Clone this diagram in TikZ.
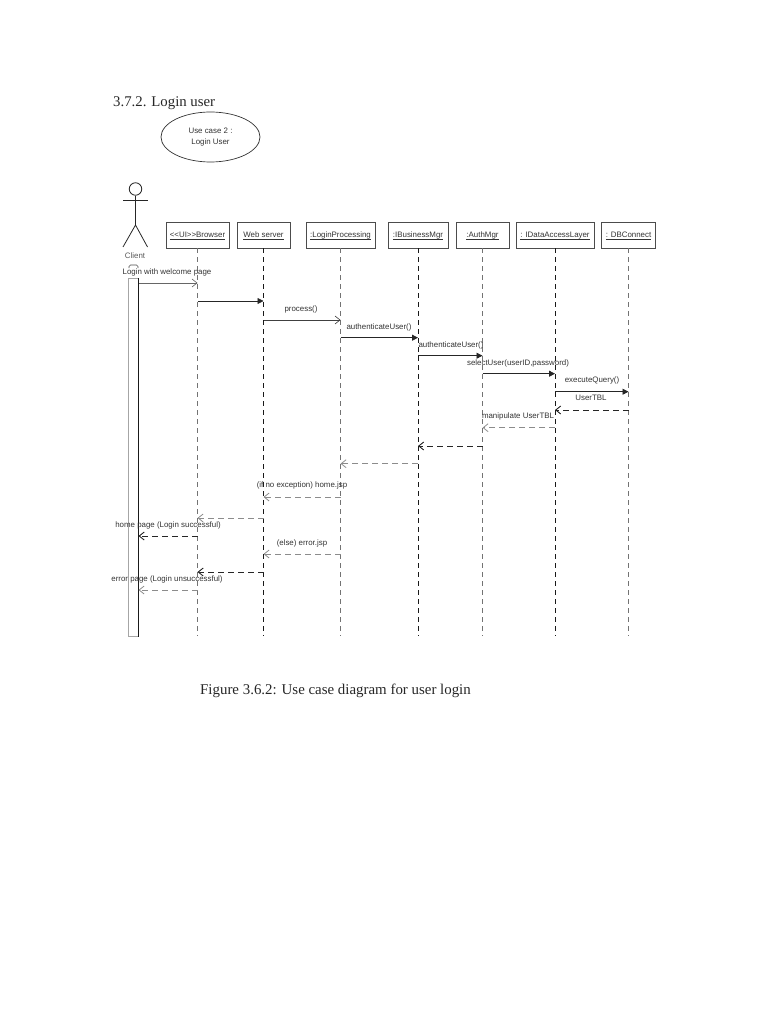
\documentclass[tikz,border=0pt]{standalone}
\usepackage{fontspec}
\setmainfont{Liberation Serif}
\setsansfont{Liberation Sans}
\usepackage{xcolor}
\usetikzlibrary{arrows.meta,positioning,shapes.geometric}
\newcommand{\headname}[1]{\underline{\smash{#1}}}

\begin{document}
\begin{tikzpicture}[
    x=1pt, y=1pt,
    lbl/.style={font=\sffamily\fontsize{7.9}{10}\selectfont, text=black!80, inner sep=0pt},
    head/.style={rectangle, draw=black!70, line width=0.8pt, fill=white, minimum height=26pt, inner sep=0pt, text height=7pt, text depth=2pt, font=\sffamily\fontsize{7.9}{10}\selectfont, text=black!80},
    life/.style={draw=black!55, line width=0.7pt, dash pattern=on 5pt off 4pt},
    lifedark/.style={draw=black!90, line width=0.8pt, dash pattern=on 5pt off 4pt},
    call/.style={-{Triangle[length=6pt,width=6pt]}, draw=black!85, line width=0.8pt},
    open/.style={-{Straight Barb[length=5pt,width=8pt]}, draw=black!60, line width=0.6pt},
    retn/.style={-{Straight Barb[length=5pt,width=8pt]}, draw=black!45, line width=0.8pt, dash pattern=on 6pt off 4pt},
    retndark/.style={-{Straight Barb[length=5pt,width=8pt]}, draw=black!85, line width=0.9pt, dash pattern=on 6pt off 4pt}
]
\useasboundingbox (0,0) rectangle (768,-1024);
% page text
\node[font=\fontsize{14.8}{16}\selectfont, text=black!85, anchor=west, inner sep=0pt] (title) at (113,-103.5) {3.7.2. Login user};
\node[font=\fontsize{14.9}{16}\selectfont, text=black!85, anchor=west, inner sep=0pt] (caption) at (200,-690.5) {Figure 3.6.2: Use case diagram for user login};
% use case
\node[ellipse, draw=black!80, line width=0.7pt, minimum width=99pt, minimum height=50pt, inner sep=0pt, align=center, font=\sffamily\fontsize{7.9}{10.5}\selectfont, text=black!80] (usecase) at (210.5,-137) {Use case 2 :\\Login User};
% actor
\node[circle, draw=black!85, line width=0.8pt, minimum size=12.5pt, inner sep=0pt] (headc) at (135.5,-189) {};
\coordinate (hip) at (135.5,-225);
\coordinate (armL) at (123,-200);
\coordinate (armR) at (147.5,-200);
\coordinate (footL) at (123,-247);
\coordinate (footR) at (147.5,-247);
\draw[draw=black!85, line width=0.8pt] (headc) -- (hip);
\draw[draw=black!85, line width=0.8pt] (armL) -- (armR);
\draw[draw=black!85, line width=0.8pt] (footL) -- (hip) -- (footR);
\node[lbl, text=black!65] (client) at (135,-256) {Client};
% activation bar
\node[rectangle, draw=black!35, line width=1pt, minimum width=10pt, minimum height=358pt, inner sep=0pt] (bar) at (133,-457.5) {};
\draw[draw=black!90, line width=1.1pt] (bar.north east) -- (bar.south east);
\draw[draw=black!70, line width=0.6pt, rounded corners=1.5pt] (129,-268) -- (129,-265) -- (138,-265) -- (138,-268);
% lifeline heads
\node[head, minimum width=63pt] (browser) at (197.5,-235) {\headname{<{}<UI>{}>Browser}};
\node[head, minimum width=53pt] (web) at (263.5,-235) {\headname{Web server}};
\node[head, minimum width=69pt] (login) at (340.5,-235) {\headname{:LoginProcessing}};
\node[head, minimum width=60pt] (bus) at (418,-235) {\headname{:IBusinessMgr}};
\node[head, minimum width=53pt] (auth) at (482.5,-235) {\headname{:AuthMgr}};
\node[head, minimum width=78pt] (data) at (555,-235) {\headname{: IDataAccessLayer}};
\node[head, minimum width=54pt] (db) at (628.5,-235) {\headname{: DBConnect}};
% message rows
\coordinate (bottom) at (0,-636);
\coordinate (m1) at (0,-283);
\coordinate (m2) at (0,-301);
\coordinate (m3) at (0,-320);
\coordinate (m4) at (0,-337.7);
\coordinate (m5) at (0,-355.7);
\coordinate (m6) at (0,-373.7);
\coordinate (m7) at (0,-391.7);
\coordinate (m8) at (0,-410);
\coordinate (m9) at (0,-427.7);
\coordinate (m10) at (0,-446);
\coordinate (m11) at (0,-463.7);
\coordinate (m12) at (0,-497);
\coordinate (m13) at (0,-518);
\coordinate (m14) at (0,-536);
\coordinate (m15) at (0,-554);
\coordinate (m16) at (0,-572);
\coordinate (m17) at (0,-590);
% lifelines
\draw[life] (browser.south) -- (browser.south |- bottom);
\draw[lifedark] (web.south) -- (web.south |- bottom);
\draw[life] (login.south) -- (login.south |- bottom);
\draw[lifedark] (bus.south) -- (bus.south |- bottom);
\draw[life] (auth.south) -- (auth.south |- bottom);
\draw[lifedark] (data.south) -- (data.south |- bottom);
\draw[life] (db.south) -- (db.south |- bottom);
% messages
\draw[open] (bar.east |- m1) -- (browser.south |- m1);
\draw[call] (browser.south |- m2) -- (web.south |- m2);
\draw[open, draw=black!75] (web.south |- m3) -- (login.south |- m3);
\draw[call] (login.south |- m4) -- (bus.south |- m4);
\draw[call, line width=0.6pt] (bus.south |- m5) -- (auth.south |- m5);
\draw[call] (auth.south |- m6) -- (data.south |- m6);
\draw[call, line width=0.6pt] (data.south |- m7) -- (db.south |- m7);
\draw[retndark] (db.south |- m8) -- (data.south |- m8);
\draw[retn] (data.south |- m9) -- (auth.south |- m9);
\draw[retndark] (auth.south |- m10) -- (bus.south |- m10);
\draw[retn] (bus.south |- m11) -- (login.south |- m11);
\draw[retn] (login.south |- m12) -- (web.south |- m12);
\draw[retn] (web.south |- m13) -- (browser.south |- m13);
\draw[retndark] (browser.south |- m14) -- (bar.east |- m14);
\draw[retn] (login.south |- m15) -- (web.south |- m15);
\draw[retndark] (web.south |- m16) -- (browser.south |- m16);
\draw[retn] (browser.south |- m17) -- (bar.east |- m17);
% message labels
\node[lbl] (l1) at (167,-272.5) {Login with welcome page};
\node[lbl] (l3) at (301,-309.5) {process()};
\node[lbl] (l4) at (379,-327) {authenticateUser()};
\node[lbl] (l5) at (451,-345) {authenticateUser()};
\node[lbl] (l6) at (518,-363) {selectUser(userID,password)};
\node[lbl] (l7) at (592,-380.6) {executeQuery()};
\node[lbl] (l8) at (591,-398) {UserTBL};
\node[lbl] (l9) at (518,-416.5) {manipulate UserTBL};
\node[lbl] (l12) at (302,-485) {(if no exception) home.jsp};
\node[lbl] (l14) at (168,-525) {home page (Login successful)};
\node[lbl] (l15) at (302,-543) {(else) error.jsp};
\node[lbl] (l17) at (167,-579) {error page (Login unsuccessful)};
\end{tikzpicture}
\end{document}
